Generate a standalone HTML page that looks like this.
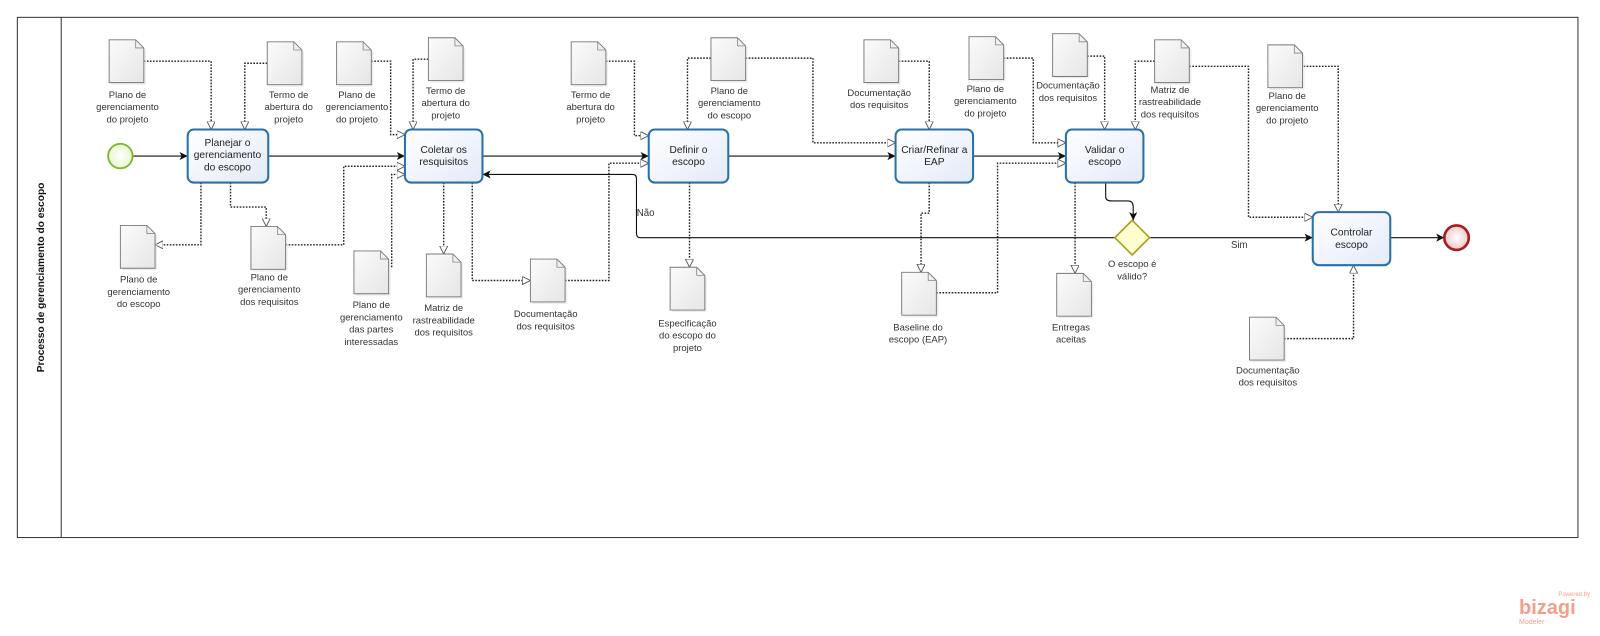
<!DOCTYPE html>
<html><head><meta charset="utf-8"><style>
html,body{margin:0;padding:0;background:#fff;width:1600px;height:636px;overflow:hidden}
svg{display:block}
text{font-family:"Liberation Sans",sans-serif;fill:#333}
.l{font-size:9.3px;text-anchor:middle}
.t{font-size:10px;text-anchor:middle;fill:#222}
.a{fill:none;stroke:#222;stroke-width:1.4;stroke-dasharray:1.6 1.4}
.s{fill:none;stroke:#111;stroke-width:1.1}
.task{fill:url(#tg);stroke:#2a6fa8;stroke-width:2}
</style></head><body>
<svg width="1600" height="636" viewBox="0 0 1600 636" xmlns="http://www.w3.org/2000/svg">
<defs>
<linearGradient id="tg" x1="0" y1="0" x2="1" y2="1"><stop offset="0" stop-color="#ffffff"/><stop offset="1" stop-color="#e3eaf9"/></linearGradient>
<linearGradient id="dg" x1="0" y1="0" x2="1" y2="1"><stop offset="0" stop-color="#fbfbfb"/><stop offset="1" stop-color="#e6e6e6"/></linearGradient>
<radialGradient id="sg"><stop offset="0" stop-color="#fff"/><stop offset="1" stop-color="#e8f6d0"/></radialGradient>
<radialGradient id="eg"><stop offset="0" stop-color="#fff"/><stop offset="1" stop-color="#f2c8c8"/></radialGradient>
<marker id="ao" markerWidth="10" markerHeight="10" refX="8" refY="4" orient="auto" markerUnits="userSpaceOnUse"><path d="M0,0 L8,4 L0,8 Z" fill="#fff" stroke="#555" stroke-width="0.9"/></marker>
<marker id="af" markerWidth="10" markerHeight="10" refX="8" refY="4" orient="auto" markerUnits="userSpaceOnUse"><path d="M0,0 L8,4 L0,8 L2,4 Z" fill="#111"/></marker>
<g id="doc"><path d="M2,2 h26 l8,8 v34 h-34z" fill="#ddd" opacity="0.5"/><path d="M0,0 h26 l8,8 v34 h-34z" fill="url(#dg)" stroke="#777" stroke-width="0.9"/><path d="M26,0 v8 h8" fill="none" stroke="#888" stroke-width="0.8"/></g>
</defs>
<g transform="scale(1.02)">
<rect x="17" y="17" width="1530" height="510" fill="none" stroke="#333" stroke-width="1"/>
<line x1="60" y1="17" x2="60" y2="527" stroke="#333"/>
<text transform="translate(43,272) rotate(-90)" style="font-size:10px;font-weight:bold;text-anchor:middle;fill:#111">Processo de gerenciamento do escopo</text>

<path class="s" d="M130,153 H184" marker-end="url(#af)"/>
<path class="s" d="M263,153 H397" marker-end="url(#af)"/>
<path class="s" d="M473,153 H636" marker-end="url(#af)"/>
<path class="s" d="M714,153 H878" marker-end="url(#af)"/>
<path class="s" d="M954,153 H1045" marker-end="url(#af)"/>
<path class="s" d="M1084,179 V193 Q1084,197 1090,197 H1106 Q1111,197 1111,203 V216" marker-end="url(#af)"/>
<path class="s" d="M1127,233 H1287" marker-end="url(#af)"/>
<path class="s" d="M1363,233 H1416" marker-end="url(#af)"/>
<path class="s" d="M1093,233 H628 Q624,233 624,229 V175 Q624,171 620,171 H473" marker-end="url(#af)"/>
<text x="633" y="212" style="font-size:9.5px;text-anchor:middle">Não</text>
<text x="1215" y="243" style="font-size:9.5px;text-anchor:middle">Sim</text>

<path class="a" d="M141,60 H207 V127" marker-end="url(#ao)"/>
<path class="a" d="M262,62 H240 V127" marker-end="url(#ao)"/>
<path class="a" d="M364,60 H383 V132 H397" marker-end="url(#ao)"/>
<path class="a" d="M420,58 H405 V127" marker-end="url(#ao)"/>
<path class="a" d="M197,179 V240 H152" marker-end="url(#ao)"/>
<path class="a" d="M226,179 V203 H261 V222" marker-end="url(#ao)"/>
<path class="a" d="M280,240 H337 V163 H397" marker-end="url(#ao)"/>
<path class="a" d="M384,262 V171 H397" marker-end="url(#ao)"/>
<path class="a" d="M435,179 V249" marker-end="url(#ao)"/>
<path class="a" d="M463,179 V275 H520" marker-end="url(#ao)"/>
<path class="a" d="M554,275 H597 V160 H636" marker-end="url(#ao)"/>
<path class="a" d="M594,60 H622 V133 H636" marker-end="url(#ao)"/>
<path class="a" d="M697,57 H674 V127" marker-end="url(#ao)"/>
<path class="a" d="M676,179 V262" marker-end="url(#ao)"/>
<path class="a" d="M731,57 H797 V140 H878" marker-end="url(#ao)"/>
<path class="a" d="M881,60 H911 V127" marker-end="url(#ao)"/>
<path class="a" d="M911,179 V209 H903 V267" marker-end="url(#ao)"/>
<path class="a" d="M918,287 H978 V160 H1045" marker-end="url(#ao)"/>
<path class="a" d="M984,57 H1013 V140 H1045" marker-end="url(#ao)"/>
<path class="a" d="M1066,55 H1083 V127" marker-end="url(#ao)"/>
<path class="a" d="M1132,60 H1113 V127" marker-end="url(#ao)"/>
<path class="a" d="M1054,179 V268" marker-end="url(#ao)"/>
<path class="a" d="M1166,65 H1224 V213 H1287" marker-end="url(#ao)"/>
<path class="a" d="M1278,65 H1312 V208" marker-end="url(#ao)"/>
<path class="a" d="M1259,332 H1327 V260" marker-end="url(#ao)"/>

<circle cx="118" cy="153" r="12" fill="url(#sg)" stroke="#7cb82f" stroke-width="1.8"/>
<circle cx="1428" cy="233" r="12" fill="url(#eg)" stroke="#a32020" stroke-width="2.6"/>
<path d="M1110,216 L1127,233 L1110,250 L1093,233 Z" fill="#fdfdd0" stroke="#a6a21a" stroke-width="1.6"/>
<text class="l" x="1110" y="262">O escopo é</text><text class="l" x="1110" y="274">válido?</text>

<rect class="task" x="184" y="127" width="79" height="52" rx="6"/>
<text class="t" x="223" y="143">Planejar o</text><text class="t" x="223" y="155">gerenciamento</text><text class="t" x="223" y="167">do escopo</text>
<rect class="task" x="397" y="127" width="76" height="52" rx="6"/>
<text class="t" x="435" y="150">Coletar os</text><text class="t" x="435" y="162">resquisitos</text>
<rect class="task" x="636" y="127" width="78" height="52" rx="6"/>
<text class="t" x="675" y="150">Definir o</text><text class="t" x="675" y="162">escopo</text>
<rect class="task" x="878" y="127" width="76" height="52" rx="6"/>
<text class="t" x="916" y="150">Criar/Refinar a</text><text class="t" x="916" y="162">EAP</text>
<rect class="task" x="1045" y="127" width="76" height="52" rx="6"/>
<text class="t" x="1083" y="150">Validar o</text><text class="t" x="1083" y="162">escopo</text>
<rect class="task" x="1287" y="208" width="76" height="52" rx="6"/>
<text class="t" x="1325" y="231">Controlar</text><text class="t" x="1325" y="243">escopo</text>

<use href="#doc" x="107" y="39"/><text class="l" x="125" y="96">Plano de</text><text class="l" x="125" y="108">gerenciamento</text><text class="l" x="125" y="120">do projeto</text>
<use href="#doc" x="262" y="41"/><text class="l" x="283" y="96">Termo de</text><text class="l" x="283" y="108">abertura do</text><text class="l" x="283" y="120">projeto</text>
<use href="#doc" x="330" y="41"/><text class="l" x="350" y="96">Plano de</text><text class="l" x="350" y="108">gerenciamento</text><text class="l" x="350" y="120">do projeto</text>
<use href="#doc" x="420" y="37"/><text class="l" x="437" y="92">Termo de</text><text class="l" x="437" y="104">abertura do</text><text class="l" x="437" y="116">projeto</text>
<use href="#doc" x="118" y="221"/><text class="l" x="136" y="277">Plano de</text><text class="l" x="136" y="289">gerenciamento</text><text class="l" x="136" y="301">do escopo</text>
<use href="#doc" x="246" y="222"/><text class="l" x="264" y="275">Plano de</text><text class="l" x="264" y="287">gerenciamento</text><text class="l" x="264" y="299">dos requisitos</text>
<use href="#doc" x="347" y="246"/><text class="l" x="364" y="302">Plano de</text><text class="l" x="364" y="314">gerenciamento</text><text class="l" x="364" y="326">das partes</text><text class="l" x="364" y="338">interessadas</text>
<use href="#doc" x="418" y="249"/><text class="l" x="435" y="305">Matriz de</text><text class="l" x="435" y="317">rastreabilidade</text><text class="l" x="435" y="329">dos requisitos</text>
<use href="#doc" x="520" y="254"/><text class="l" x="535" y="311">Documentação</text><text class="l" x="535" y="323">dos requisitos</text>
<use href="#doc" x="560" y="41"/><text class="l" x="579" y="96">Termo de</text><text class="l" x="579" y="108">abertura do</text><text class="l" x="579" y="120">projeto</text>
<use href="#doc" x="697" y="37"/><text class="l" x="715" y="92">Plano de</text><text class="l" x="715" y="104">gerenciamento</text><text class="l" x="715" y="116">do escopo</text>
<use href="#doc" x="657" y="262"/><text class="l" x="674" y="320">Especificação</text><text class="l" x="674" y="332">do escopo do</text><text class="l" x="674" y="344">projeto</text>
<use href="#doc" x="847" y="39"/><text class="l" x="862" y="94">Documentação</text><text class="l" x="862" y="106">dos requisitos</text>
<use href="#doc" x="950" y="36"/><text class="l" x="966" y="90">Plano de</text><text class="l" x="966" y="102">gerenciamento</text><text class="l" x="966" y="114">do projeto</text>
<use href="#doc" x="1032" y="33"/><text class="l" x="1047" y="87">Documentação</text><text class="l" x="1047" y="99">dos requisitos</text>
<use href="#doc" x="1132" y="39"/><text class="l" x="1147" y="91">Matriz de</text><text class="l" x="1147" y="103">rastreabilidade</text><text class="l" x="1147" y="115">dos requisitos</text>
<use href="#doc" x="1243" y="44"/><text class="l" x="1262" y="97">Plano de</text><text class="l" x="1262" y="109">gerenciamento</text><text class="l" x="1262" y="121">do projeto</text>
<use href="#doc" x="884" y="267"/><text class="l" x="900" y="324">Baseline do</text><text class="l" x="900" y="336">escopo (EAP)</text>
<use href="#doc" x="1036" y="268"/><text class="l" x="1050" y="324">Entregas</text><text class="l" x="1050" y="336">aceitas</text>
<use href="#doc" x="1225" y="311"/><text class="l" x="1243" y="366">Documentação</text><text class="l" x="1243" y="378">dos requisitos</text>
</g>
<text x="1590" y="596" style="font-size:6px;text-anchor:end;fill:#f0a090">Powered by</text>
<text x="1519" y="614" style="font-size:20px;font-weight:bold;fill:#f2a08a">bizagi</text>
<text x="1519" y="624" style="font-size:7px;fill:#f2a08a">Modeler</text>
</svg>
</body></html>
